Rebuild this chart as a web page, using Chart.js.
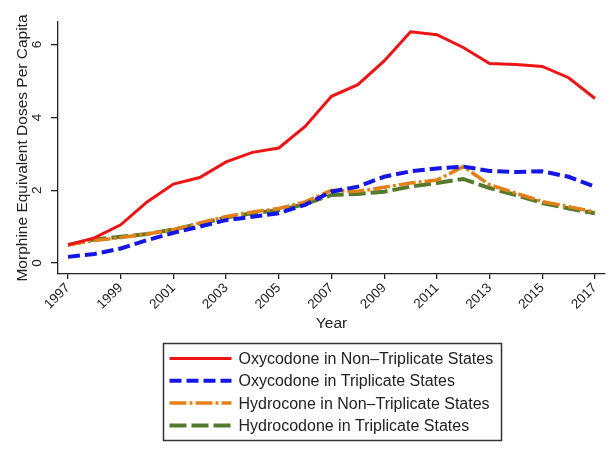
<!DOCTYPE html>
<html>
<head>
<meta charset="utf-8">
<script src="https://cdn.jsdelivr.net/npm/chart.js@4.4.0/dist/chart.umd.min.js"></script>
<style>
  body { margin: 0; background: #fff; }
</style>
</head>
<body>
<canvas id="dosesChart" width="608" height="457"></canvas>
<script>
  const years = [1997, 1998, 1999, 2000, 2001, 2002, 2003, 2004, 2005, 2006, 2007,
                 2008, 2009, 2010, 2011, 2012, 2013, 2014, 2015, 2016, 2017];
  const tickYears = [1997, 1999, 2001, 2003, 2005, 2007, 2009, 2011, 2013, 2015, 2017];
  const tickDoses = [0, 2, 4, 6];

  const seriesNames = [
    "Oxycodone in Non\u2013Triplicate States",
    "Oxycodone in Triplicate States",
    "Hydrocone in Non\u2013Triplicate States",
    "Hydrocodone in Triplicate States"
  ];
  const oxyNonTrip = [0.50, 0.69, 1.05, 1.68, 2.17, 2.35, 2.78, 3.04, 3.16, 3.75, 4.58,
                      4.90, 5.55, 6.35, 6.27, 5.92, 5.48, 5.45, 5.40, 5.09, 4.52];
  const oxyTrip = [0.17, 0.25, 0.40, 0.63, 0.83, 1.00, 1.18, 1.27, 1.37, 1.60, 1.96,
                   2.10, 2.37, 2.52, 2.60, 2.65, 2.53, 2.50, 2.52, 2.37, 2.10];
  const hydroNonTrip = [0.50, 0.62, 0.70, 0.80, 0.92, 1.10, 1.28, 1.40, 1.50, 1.68, 2.00,
                        1.97, 2.08, 2.20, 2.28, 2.65, 2.15, 1.92, 1.69, 1.55, 1.40];
  const hydroTrip = [0.50, 0.65, 0.72, 0.80, 0.92, 1.08, 1.25, 1.37, 1.45, 1.62, 1.87,
                     1.90, 1.96, 2.10, 2.20, 2.31, 2.06, 1.87, 1.65, 1.50, 1.37];

  const ink = "#222";
  const fontFamily = "'Liberation Sans', Arial, Helvetica, sans-serif";

  function points(vals) {
    return years.map((yr, i) => ({ x: yr, y: vals[i] }));
  }

  function line(label, vals, color, width, dash) {
    return {
      label: label,
      data: points(vals),
      borderColor: color,
      backgroundColor: color,
      borderWidth: width,
      borderDash: dash,
      borderCapStyle: "butt",
      pointRadius: 0,
      tension: 0,
      fill: false
    };
  }

  // boxed legend under the axis title, one row per series
  const boxLegend = {
    id: "boxLegend",
    afterDraw(chart) {
      const ctx = chart.ctx;
      const area = chart.chartArea;
      const w = 338, h = 97;
      const left = Math.round((area.left + area.right) / 2 - w / 2) + 0.5;
      const top = Math.round(chart.scales.x.bottom + 9) + 0.5;

      ctx.save();
      ctx.strokeStyle = "#333";
      ctx.lineWidth = 1.5;
      ctx.strokeRect(left, top, w, h);

      ctx.font = "16px " + fontFamily;
      ctx.fillStyle = ink;
      ctx.textBaseline = "middle";
      chart.data.datasets.forEach((ds, i) => {
        const y = top + 15 + i * 22.3;
        ctx.beginPath();
        ctx.strokeStyle = ds.borderColor;
        ctx.lineWidth = ds.borderWidth;
        ctx.setLineDash(ds.borderDash || []);
        ctx.moveTo(left + 6, y);
        ctx.lineTo(left + 68, y);
        ctx.stroke();
        ctx.setLineDash([]);
        ctx.fillText(ds.label, left + 75, y + 1);
      });
      ctx.restore();
    }
  };

  new Chart("dosesChart", {
    type: "line",
    data: {
      datasets: [
        line(seriesNames[0], oxyNonTrip, "rgb(238,20,22)", 3, []),
        line(seriesNames[1], oxyTrip, "rgb(22,22,228)", 4, [12, 5]),
        line(seriesNames[2], hydroNonTrip, "rgb(228,128,24)", 3.5, [17, 3, 3, 3]),
        line(seriesNames[3], hydroTrip, "rgb(84,122,44)", 4, [17, 5])
      ]
    },
    options: {
      responsive: false,
      animation: false,
      devicePixelRatio: 1,
      layout: { padding: { top: 22, right: 3, bottom: 123, left: 0 } },
      plugins: {
        legend: { display: false },
        tooltip: { enabled: false }
      },
      scales: {
        x: {
          type: "linear",
          min: 1996.62,
          max: 2017.38,
          afterBuildTicks: s => { s.ticks = tickYears.map(v => ({ value: v })); },
          afterFit: s => { s.height = 60; s.paddingLeft = 0; s.paddingRight = 0; },
          ticks: {
            autoSkip: false,
            minRotation: 45,
            maxRotation: 45,
            padding: 1,
            color: ink,
            font: { family: fontFamily, size: 13.5 },
            callback: v => String(v)
          },
          grid: { drawOnChartArea: false, drawTicks: true, tickLength: 5, color: ink, lineWidth: 1.3 },
          border: { display: true, color: ink, width: 1.3 },
          title: {
            display: true,
            text: "Year",
            color: ink,
            font: { family: fontFamily, size: 15.5 },
            padding: { top: 0, bottom: 1 }
          }
        },
        y: {
          min: -0.3,
          max: 6.62,
          afterBuildTicks: s => { s.ticks = tickDoses.map(v => ({ value: v })); },
          afterFit: s => { s.width = 58; s.paddingTop = 0; s.paddingBottom = 0; },
          ticks: {
            minRotation: 90,
            maxRotation: 90,
            crossAlign: "center",
            padding: 10,
            color: ink,
            font: { family: fontFamily, size: 13.5 },
            callback: v => String(v)
          },
          grid: { drawOnChartArea: false, drawTicks: true, tickLength: 7, color: ink, lineWidth: 1.3 },
          border: { display: true, color: ink, width: 1.3 },
          title: {
            display: true,
            text: "Morphine Equivalent Doses Per Capita",
            color: ink,
            font: { family: fontFamily, size: 15.5 },
            padding: { top: 13, bottom: 0 }
          }
        }
      }
    },
    plugins: [boxLegend]
  });
</script>
</body>
</html>
